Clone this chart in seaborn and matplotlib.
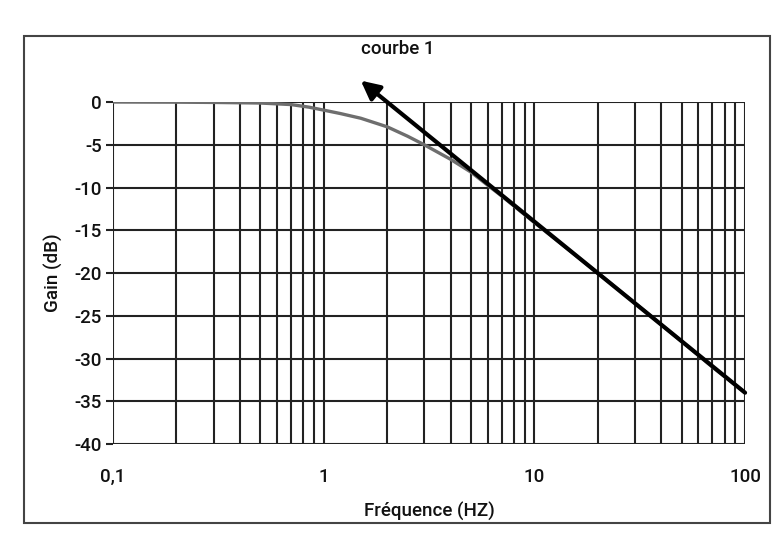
import matplotlib
matplotlib.use("Agg")
import matplotlib.pyplot as plt
import seaborn as sns
import pandas as pd
from matplotlib.patches import Rectangle

# Data
freq = [0.1, 0.2, 0.3, 0.5, 0.7, 0.85, 1.0, 1.2, 1.5, 2.0, 2.5, 3.0, 4.0, 5.0, 6.2, 7.0, 10.0, 20.0, 30.0, 50.0, 70.0, 100.0]
gain = [0.0, -0.02, -0.05, -0.12, -0.3, -0.6, -0.95, -1.35, -1.9, -2.9, -4.0, -5.0, -6.7, -8.2, -10.0, -11.0, -14.1, -20.0, -23.5, -28.0, -31.0, -34.0]
arrow_start = (100.0, -34.0)
arrow_end = (1.5, 2.5)
label_text = "courbe 1"
label_pos = (2.25, 6.2)
xticks = [0.1, 1, 10, 100]
xtick_labels = ["0,1", "1", "10", "100"]
yticks = [0, -5, -10, -15, -20, -25, -30, -35, -40]

sns.set_theme(style="white")
plt.rcParams['font.family'] = ['Roboto', 'DejaVu Sans']
FS = 13.5
FW = "medium"

fig = plt.figure(figsize=(7.8, 5.42), dpi=100)
ax = fig.add_axes([0.1449, 0.1808, 0.8103, 0.631])

df = pd.DataFrame({"freq": freq, "gain": gain})
sns.lineplot(data=df, x="freq", y="gain", ax=ax, color="#6e6e6e", linewidth=2.4, zorder=3)

ax.set_xscale("log")
ax.set_xlim(0.1, 100)
ax.set_ylim(-40, 0)

ax.set_xticks(xticks)
ax.set_xticklabels(xtick_labels, fontweight=FW)
ax.set_yticks(yticks)
ax.set_yticklabels([str(v) for v in yticks], fontweight=FW)
ax.tick_params(axis="x", which="both", length=0, pad=17, labelsize=FS, colors="#111111")
ax.tick_params(axis="y", which="major", length=5, width=1.5, color="#222222", pad=3,
               labelsize=FS, left=True, labelcolor="#111111")

ax.grid(True, which="both", axis="x", color="#222222", linewidth=1.5)
ax.grid(True, which="major", axis="y", color="#222222", linewidth=1.5)
ax.set_axisbelow(True)
for s in ax.spines.values():
    s.set_visible(False)

ax.set_xlabel("Fréquence (HZ)", fontsize=FS, fontweight=FW, labelpad=12, color="#111111")
ax.set_ylabel("Gain (dB)", fontsize=FS, fontweight=FW, labelpad=8, color="#111111")

ax.annotate("", xy=arrow_end, xytext=arrow_start,
            arrowprops=dict(arrowstyle="-|>", color="black", lw=3.0,
                            mutation_scale=28, shrinkA=0, shrinkB=0),
            annotation_clip=False, zorder=5)
ax.text(label_pos[0], label_pos[1], label_text, ha="center", va="center",
        fontsize=FS, fontweight=FW, color="#111111", clip_on=False)

fig.patches.append(Rectangle((0.0308, 0.035), 0.956, 0.8986, transform=fig.transFigure,
                             fill=False, edgecolor="#444444", linewidth=1.5))

fig.savefig("out.png", dpi=100, facecolor="white")
